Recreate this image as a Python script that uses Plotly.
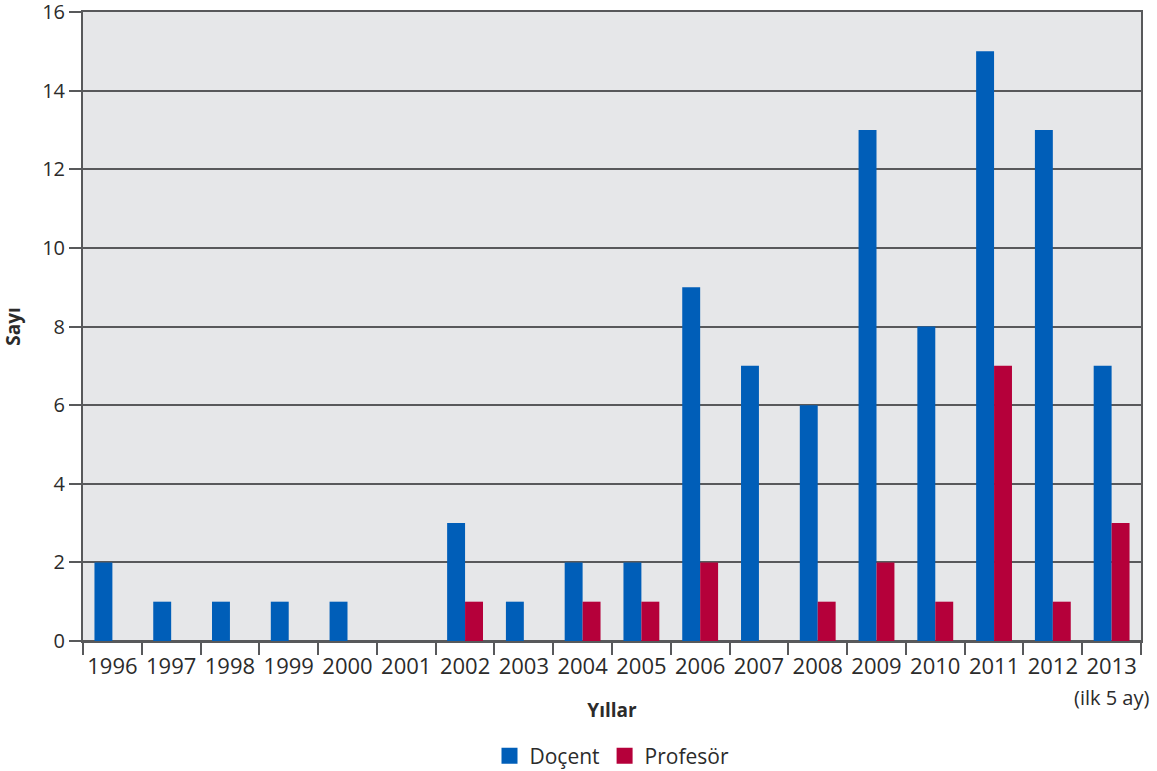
import plotly.graph_objects as go

years = ["1996", "1997", "1998", "1999", "2000", "2001", "2002", "2003", "2004",
         "2005", "2006", "2007", "2008", "2009", "2010", "2011", "2012", "2013"]
docent = [2, 1, 1, 1, 1, 0, 3, 1, 2, 2, 9, 7, 6, 13, 8, 15, 13, 7]
profesor = [0, 0, 0, 0, 0, 0, 1, 0, 1, 1, 2, 0, 1, 2, 1, 7, 1, 3]
series = [("Doçent", docent, "#005eb8"), ("Profesör", profesor, "#b5003a")]

FONT = "Open Sans"
TXT = "#2b2b2b"
GRID = "#58595b"

fig = go.Figure()
for name, vals, col in series:
    fig.add_trace(go.Bar(x=years, y=vals, name=name, marker_color=col,
                         marker_line_width=0, showlegend=False))
# legend entries with larger square swatches
for name, vals, col in series:
    fig.add_trace(go.Scatter(x=[None], y=[None], mode="markers", name=name,
                             marker=dict(symbol="square", size=22, color=col)))

fig.update_layout(
    width=1157, height=771,
    margin=dict(l=83, r=16, t=12, b=130, autoexpand=False),
    paper_bgcolor="white",
    plot_bgcolor="#e6e7e9",
    barmode="group",
    bargap=0.39,
    bargroupgap=0,
    font=dict(family=FONT, size=21, color=TXT),
    legend=dict(orientation="h", x=0.5, xanchor="center", y=-0.183, yanchor="middle",
                font=dict(size=21, color=TXT), itemwidth=30, tracegroupgap=0),
    xaxis=dict(
        type="category",
        range=[-0.5, len(years) - 0.5],
        tickson="boundaries",
        tickangle=0,
        ticks="outside", ticklen=12, tickwidth=2, tickcolor=GRID,
        showline=True, linecolor=GRID, linewidth=2, mirror=True,
        showgrid=False,
        tickfont=dict(size=22, color=TXT),
        ticklabelstandoff=5,
        title=dict(text="<b>Yıllar</b>", font=dict(size=19, color=TXT), standoff=24),
        automargin=False,
    ),
    yaxis=dict(
        range=[0, 16], dtick=2,
        ticks="outside", ticklen=12, tickwidth=2, tickcolor=GRID,
        showline=True, linecolor=GRID, linewidth=2, mirror=True,
        showgrid=True, gridcolor=GRID, gridwidth=2,
        zeroline=True, zerolinecolor=GRID, zerolinewidth=2,
        tickfont=dict(size=20, color=TXT),
        ticklabeloverflow="allow",
        title=dict(text="<b>Sayı</b>", font=dict(size=19, color=TXT), standoff=18),
        automargin=False,
    ),
)

fig.add_annotation(text="(ilk 5 ay)", xref="x", yref="paper", x=len(years) - 1, y=0,
                   yshift=-56, showarrow=False, yanchor="middle",
                   font=dict(size=20, color=TXT, family=FONT))

fig.write_html("out.html")
